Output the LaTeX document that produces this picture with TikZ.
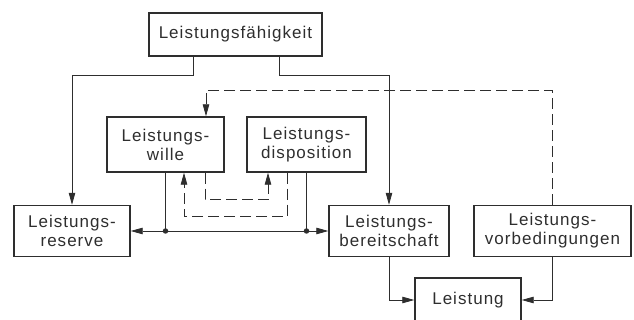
\documentclass[tikz,border=0pt]{standalone}
\usepackage{fontspec}
\setmainfont[LetterSpace=6]{Liberation Sans}
\usetikzlibrary{arrows.meta}
\definecolor{ink}{HTML}{2E2E2E}
\begin{document}
\begin{tikzpicture}[x=1pt,y=1pt,
  box/.style={draw=ink, line width=1.4pt, rectangle, align=center, inner sep=0pt,
    font=\fontsize{17}{19}\selectfont, text=ink},
  conn/.style={draw=ink, line width=0.8pt},
  arr/.style={conn, -{Triangle[length=12pt,width=6.5pt]}},
  dsh/.style={dash pattern=on 11pt off 5pt},
  dot/.style={circle, fill=ink, inner sep=0pt, minimum size=5.5pt}]
\useasboundingbox (0,0) rectangle (634,320);
% nodes
\node[box, minimum width=173pt, minimum height=43pt] (fae) at (235.5,285.5) {Leistungsfähigkeit};
\node[box, minimum width=117pt, minimum height=55pt] (wil) at (165.5,175.5) {Leistungs-\\wille};
\node[box, minimum width=119pt, minimum height=55pt] (dis) at (306.5,175.5) {Leistungs-\\disposition};
\node[box, minimum width=116pt, minimum height=51pt] (res) at (72,89) {Leistungs-\\reserve};
\node[box, minimum width=120pt, minimum height=51pt] (ber) at (389,89) {Leistungs-\\bereitschaft};
\node[box, minimum width=157pt, minimum height=51pt] (vor) at (552.5,89) {Leistungs-\\vorbedingungen};
\node[box, minimum width=106pt, minimum height=44pt] (lei) at (468,20) {Leistung};
% junction dots
\node[dot] (j1) at (wil.south |- res.east) {};
\node[dot] (j2) at (dis.south |- ber.west) {};
% from Leistungsfaehigkeit
\draw[arr] ([xshift=-42.5pt]fae.south) |- ([yshift=-18.5pt]fae.south -| res.north) -- (res.north);
\draw[arr] ([xshift=43.5pt]fae.south) |- ([yshift=-18.5pt]fae.south -| ber.north) -- (ber.north);
% dashed from Vorbedingungen to Wille
\draw[arr, dsh] (vor.north) |- ([xshift=40.5pt,yshift=26pt]wil.north) -- ([xshift=40.5pt]wil.north);
% solid lines to junctions
\draw[conn] (wil.south) -- (j1.center);
\draw[conn] (dis.south) -- (j2.center);
\draw[arr] (j1.center) -- (res.east);
\draw[conn] (j1.center) -- (j2.center);
\draw[arr] (j2.center) -- (ber.west);
% dashed feedback between Wille and Disposition
\draw[arr, dsh] ([xshift=39.5pt]wil.south) |- ([xshift=-38.5pt,yshift=-27pt]dis.south) -- ([xshift=-38.5pt]dis.south);
\draw[arr, dsh] ([xshift=-19.5pt]dis.south) |- ([xshift=18.5pt,yshift=-44pt]wil.south) -- ([xshift=18.5pt]wil.south);
% to Leistung
\draw[arr] (ber.south) |- (lei.west);
\draw[arr] (vor.south) |- (lei.east);
\end{tikzpicture}
\end{document}
